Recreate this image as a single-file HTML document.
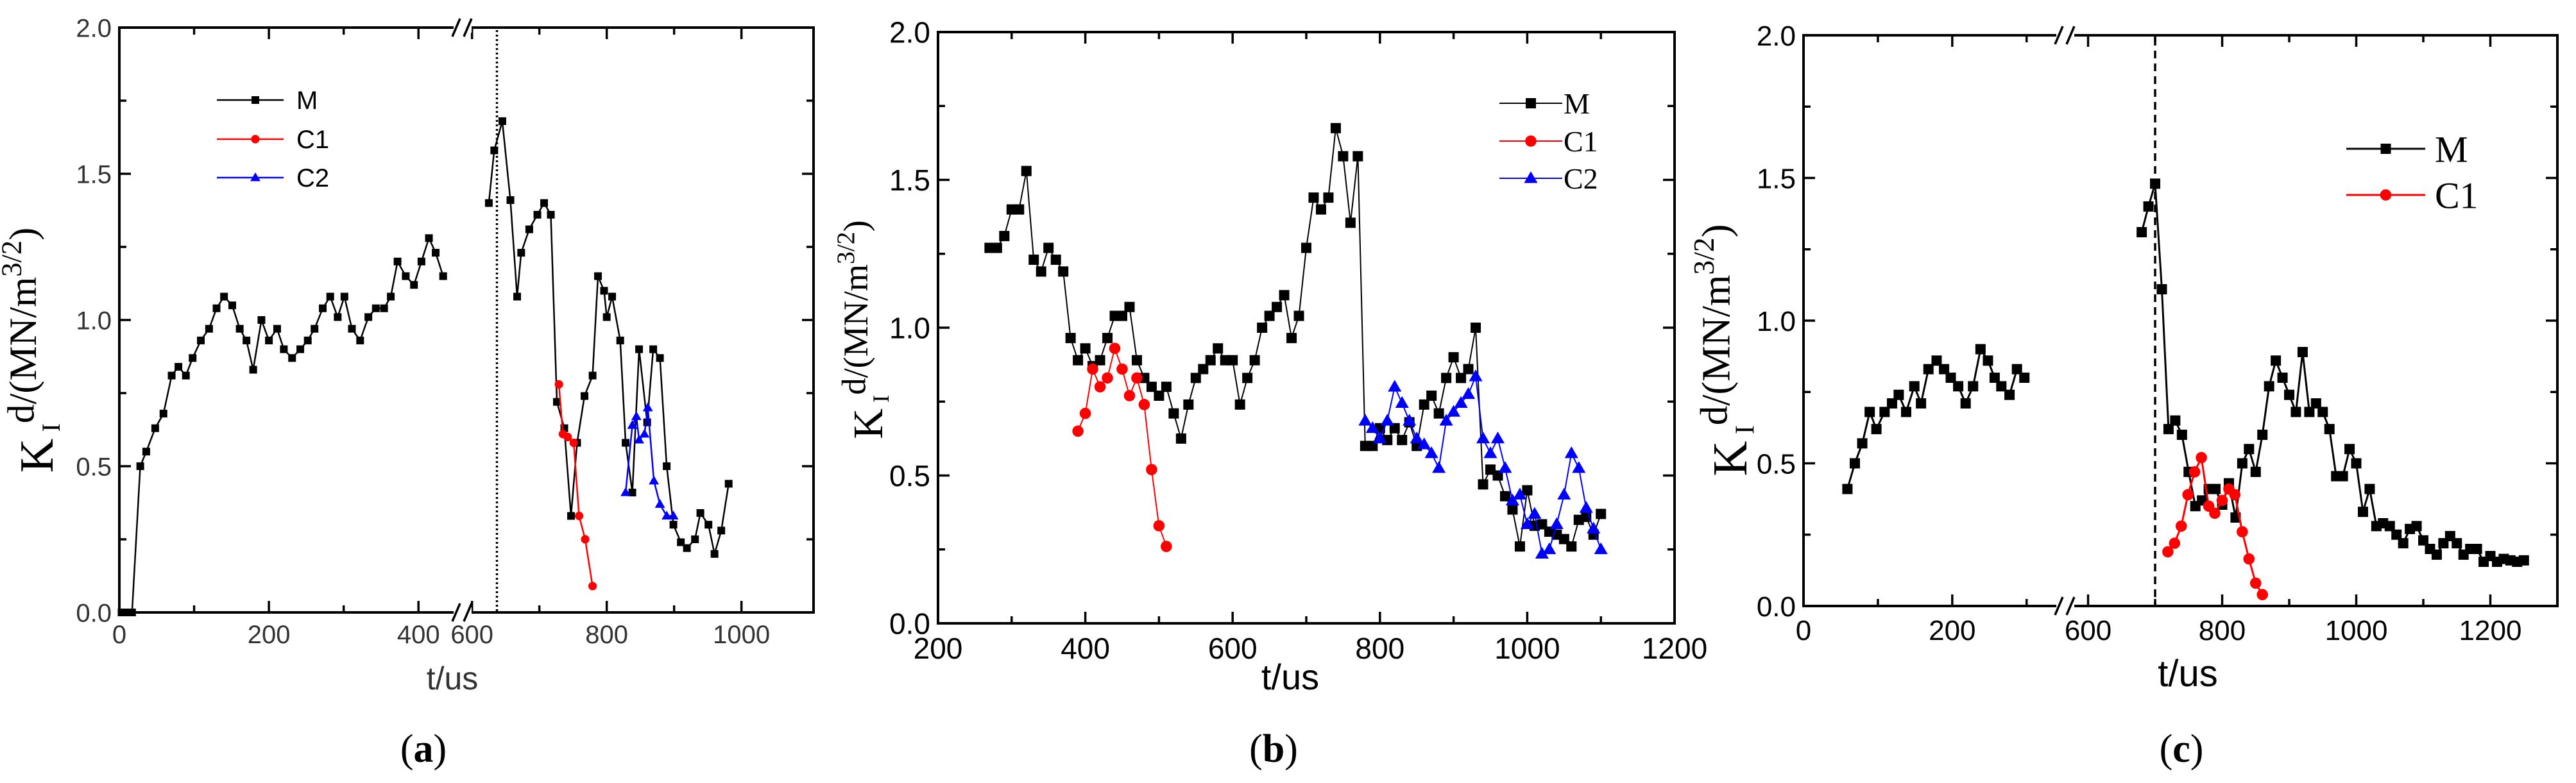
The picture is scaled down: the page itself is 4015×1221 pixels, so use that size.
<!DOCTYPE html>
<html><head><meta charset="utf-8">
<style>
html,body{margin:0;padding:0;background:#fff;}
svg{display:block;}
</style></head>
<body>
<svg id="fig" width="4015" height="1221" viewBox="0 0 4015 1221" xmlns="http://www.w3.org/2000/svg"></svg>
<script>
// ---------- Panel (a) data ----------
const aMt = [3,10,17,28,36,48,59,70,79,89,98,109,120,130,140,151,161,170,179,190,200,211,220,231,242,252,261,272,282,292,301,311,322,333,343,354,363,372,383,394,404,414,423,433,
 625,633,645,657,667,673,685,697,707,717,726,737,747,756,767,779,787,796,800,808,820,828,838,848,860,869,879,889,899,910,919,931,939,951,960,970,981];
const aMy = [0,0,0,0.50,0.55,0.63,0.68,0.81,0.84,0.81,0.87,0.93,0.97,1.04,1.08,1.05,0.97,0.93,0.83,1.0,0.93,0.97,0.90,0.87,0.90,0.93,0.97,1.04,1.08,1.01,1.08,0.97,0.93,1.01,1.04,1.04,1.08,1.20,1.15,1.12,1.20,1.28,1.23,1.15,
 1.40,1.58,1.68,1.41,1.08,1.23,1.31,1.36,1.40,1.36,0.72,0.63,0.33,0.58,0.74,0.81,1.15,1.10,1.01,1.08,0.93,0.58,0.41,0.90,0.65,0.90,0.87,0.50,0.30,0.24,0.22,0.25,0.34,0.30,0.20,0.28,0.44];
const aC1t = [729,735,742,751,759,768,779];
const aC1y = [0.78,0.61,0.60,0.58,0.33,0.25,0.09];
const aC2t = [828,838,844,848,856,861,870,879,889,899];
const aC2y = [0.41,0.64,0.67,0.59,0.61,0.70,0.45,0.37,0.33,0.33];
const aXTicks = ["0","200","400","600","800","1000"];
// ---------- Panel (b) data ----------
const bMt = [270,280,290,300,310,320,330,340,350,360,370,380,390,400,410,420,430,440,450,460,470,480,490,500,510,520,530,540,550,560,570,580,590,600,610,620,630,640,650,660,670,680,690,700,710,720,730,740,750,760,770,780,790,800,810,820,830,840,850,860,870,880,890,900,910,920,930,940,950,960,970,980,990,1000,1010,1020,1030,1040,1050,1060,1070,1080,1090,1100];
const bMy = [1.27,1.27,1.31,1.40,1.40,1.53,1.23,1.19,1.27,1.23,1.19,0.965,0.89,0.93,0.87,0.89,0.965,1.04,1.04,1.07,0.89,0.83,0.80,0.77,0.80,0.71,0.625,0.74,0.83,0.86,0.89,0.93,0.89,0.89,0.74,0.83,0.89,1.00,1.04,1.07,1.11,0.965,1.04,1.27,1.44,1.40,1.44,1.675,1.58,1.355,1.58,0.60,0.60,0.66,0.62,0.66,0.62,0.68,0.60,0.74,0.77,0.71,0.83,0.90,0.83,0.86,1.00,0.47,0.52,0.50,0.43,0.385,0.26,0.45,0.33,0.335,0.31,0.30,0.285,0.26,0.35,0.36,0.30,0.37];
const bC1t = [390,400,410,420,430,440,450,460,470,480,490,500,510];
const bC1y = [0.65,0.71,0.86,0.80,0.83,0.93,0.86,0.77,0.83,0.74,0.52,0.33,0.26];
const bC2t = [780,790,800,810,820,830,840,850,860,870,880,890,900,910,920,930,940,950,960,970,980,990,1000,1010,1020,1030,1040,1050,1060,1070,1080,1090,1100];
const bC2y = [0.685,0.66,0.625,0.685,0.80,0.745,0.685,0.625,0.605,0.575,0.525,0.685,0.715,0.745,0.775,0.835,0.625,0.575,0.625,0.525,0.415,0.435,0.335,0.37,0.235,0.25,0.335,0.435,0.575,0.525,0.39,0.32,0.25];
const bXTicks = ["200","400","600","800","1000","1200"];
// ---------- Panel (c) data ----------
const cMt = [59,69,79,89,98,109,119,128,138,149,158,168,179,189,198,208,218,228,238,248,257,266,277,287,297,
 680,690,700,710,720,730,740,750,760,770,780,790,800,810,820,830,840,850,860,870,880,890,900,910,920,930,940,950,960,970,980,990,1000,1010,1020,1030,1040,1050,1060,1070,1080,1090,1100,1110,1120,1130,1140,1150,1160,1170,1180,1190,1200,1210,1220,1230,1240,1250];
const cMy = [0.41,0.50,0.57,0.68,0.62,0.68,0.71,0.74,0.68,0.77,0.71,0.83,0.86,0.83,0.80,0.77,0.71,0.77,0.90,0.86,0.80,0.77,0.74,0.83,0.80,
 1.31,1.40,1.48,1.11,0.62,0.65,0.60,0.47,0.35,0.37,0.41,0.41,0.355,0.43,0.31,0.50,0.55,0.47,0.60,0.77,0.86,0.80,0.74,0.68,0.89,0.68,0.71,0.68,0.62,0.455,0.455,0.55,0.50,0.33,0.41,0.28,0.29,0.28,0.25,0.22,0.27,0.28,0.23,0.20,0.18,0.22,0.245,0.22,0.18,0.20,0.20,0.155,0.175,0.155,0.165,0.16,0.155,0.16];
const cC1t = [719,729,739,749,759,769,780,789,800,810,819,830,840,850,860];
const cC1y = [0.19,0.22,0.28,0.39,0.47,0.52,0.35,0.325,0.37,0.41,0.39,0.26,0.165,0.08,0.04];
const cXTicks = ["0","200","600","800","1000","1200"];
const yTicks = ["0.0","0.5","1.0","1.5","2.0"];

const NS = "http://www.w3.org/2000/svg";
const fig = document.getElementById('fig');
function el(tag, attrs, parent){
  const e = document.createElementNS(NS, tag);
  for (const k in attrs) e.setAttribute(k, attrs[k]);
  (parent||fig).appendChild(e);
  return e;
}

function makeScaleX(segs){
  return function(v){
    for (const s of segs){ if (v>=s.d0-1e-9 && v<=s.d1+1e-9) return s.p0+(v-s.d0)/(s.d1-s.d0)*(s.p1-s.p0); }
    const s = v < segs[0].d0 ? segs[0] : segs[segs.length-1];
    return s.p0+(v-s.d0)/(s.d1-s.d0)*(s.p1-s.p0);
  };
}

function drawPanel(cfg){
  const g = el('g', {});
  
  
  const X = makeScaleX(cfg.segs);
  const Y = v => cfg.bottom - v/2*(cfg.bottom-cfg.top);
  const L = cfg.segs[0].p0, R = cfg.segs[cfg.segs.length-1].p1;
  const font = cfg.tickFont;
  const yt = el('g', {}, g);
  
  
  for (let i=0;i<=8;i++){
    const v = i*0.25, y = Y(v), len = i%2===0?18:11;
    el('line',{x1:L,y1:y,x2:L+len,y2:y,stroke:'#000','stroke-width':3.5},yt);
    el('line',{x1:R,y1:y,x2:R-len,y2:y,stroke:'#000','stroke-width':3.5},yt);
    if (i%2===0){
      const t = el('text',{x:L-12,y:y+cfg.tickSize*0.36,'text-anchor':'end','font-family':font,'font-size':cfg.tickSize,fill:cfg.tickColor},yt);
      t.textContent = yTicks[i/2];
      
      
    }
  }
  const xt = el('g', {}, g);
  
  
  cfg.majors.forEach((v,i)=>{
    const x = X(v);
    el('line',{x1:x,y1:cfg.bottom,x2:x,y2:cfg.bottom-18,stroke:'#000','stroke-width':3.5},xt);
    el('line',{x1:x,y1:cfg.top,x2:x,y2:cfg.top+18,stroke:'#000','stroke-width':3.5},xt);
    const t = el('text',{x:x,y:cfg.bottom+cfg.tickSize*1.2,'text-anchor':'middle','font-family':font,'font-size':cfg.tickSize,fill:cfg.tickColor},xt);
    t.textContent = cfg.xLabels[i];
    
    
  });
  cfg.minors.forEach(v=>{
    const x = X(v);
    el('line',{x1:x,y1:cfg.bottom,x2:x,y2:cfg.bottom-11,stroke:'#000','stroke-width':3.5},xt);
    el('line',{x1:x,y1:cfg.top,x2:x,y2:cfg.top+11,stroke:'#000','stroke-width':3.5},xt);
  });
  const fr = el('rect',{x:L,y:cfg.top,width:R-L,height:cfg.bottom-cfg.top,fill:'none',stroke:'#000','stroke-width':4},g);
  
  
  if (cfg.breakX){
    const bx = cfg.breakX;
    [cfg.top,cfg.bottom].forEach(y=>{
      el('rect',{x:bx-14,y:y-8,width:28,height:16,fill:'#fff'},g);
      const b1 = el('line',{x1:bx-16,y1:y+14,x2:bx-4,y2:y-14,stroke:'#000','stroke-width':3.5},g);
      
      
      el('line',{x1:bx+2,y1:y+14,x2:bx+14,y2:y-14,stroke:'#000','stroke-width':3.5},g);
    });
  }
  if (cfg.vline){
    const vx = X(cfg.vline.t);
    const vl = el('line',{x1:vx,y1:cfg.top+4,x2:vx,y2:cfg.bottom-2,stroke:'#000','stroke-width':3.5,'stroke-dasharray':cfg.vline.dash},g);
    
    
  }
  cfg.series.forEach(s=>{
    const sg = el('g',{},g);
    
    
    const n = Math.min(s.t.length, s.y.length);
    s.parts.forEach(([i0,i1])=>{
      i1 = Math.min(i1, n);
      let d='';
      for (let i=i0;i<i1;i++) d += (i===i0?'M':'L')+X(s.t[i]).toFixed(1)+','+Y(s.y[i]).toFixed(1);
      el('path',{d:d,fill:'none',stroke:s.color,'stroke-width':cfg.lw},sg);
    });
    for (let i=0;i<n;i++){
      const m = marker(s.shape, X(s.t[i]), Y(s.y[i]), cfg.ms, s.color, sg);
      
      
    }
  });
  const lg = el('g',{},g);
  
  
  cfg.legend.items.forEach((it,i)=>{
    const y = cfg.legend.y[i];
    el('line',{x1:cfg.legend.x0,y1:y,x2:cfg.legend.x1,y2:y,stroke:it.color,'stroke-width':cfg.lw},lg);
    marker(it.shape,(cfg.legend.x0+cfg.legend.x1)/2+cfg.legend.mOff,y,cfg.ms,it.color,lg);
    const t = el('text',{x:cfg.legend.tx,y:y+cfg.legend.size*0.35,'font-family':cfg.legend.font,'font-size':cfg.legend.size,fill:'#000'},lg);
    t.textContent = it.label;
    
    
  });
  const xl = el('text',{x:cfg.xTitle[0],y:cfg.xTitle[1],'text-anchor':'middle','font-family':'"Liberation Sans",sans-serif','font-size':cfg.xTitle[2],fill:cfg.tickColor},g);
  xl.textContent = 't/us';
  
  
  const [yx,yy,ys] = cfg.yTitle;
  const yl = el('text',{x:0,y:0,'text-anchor':'middle','font-family':'"Liberation Serif",serif','font-size':ys,fill:'#000',transform:`translate(${yx},${yy}) rotate(-90)`},g);
  
  
  yl.innerHTML = `K<tspan font-size="${ys*0.55}" dy="${ys*0.15}"> I</tspan><tspan font-size="${ys*0.8}" dy="${-ys*0.55}">d</tspan><tspan dy="${ys*0.05}" font-size="${ys*0.82}">/(MN/m</tspan><tspan font-size="${ys*0.6}" dy="${-ys*0.32}">3/2</tspan><tspan dy="${ys*0.32}" font-size="${ys*0.82}">)</tspan>`;
  const cap = el('text',{x:cfg.cap[0],y:cfg.cap[1],'text-anchor':'middle','font-family':'"Liberation Serif",serif','font-size':62,fill:'#000'},g);
  cap.innerHTML = `(<tspan font-weight="bold">${cfg.cap[2]}</tspan>)`;
  
  
}

function marker(shape,x,y,s,color,parent){
  if (shape==='sq') return el('rect',{x:x-s/2,y:y-s/2,width:s,height:s,fill:color},parent);
  if (shape==='ci') return el('circle',{cx:x,cy:y,r:s*0.55,fill:color},parent);
  const h = s*1.1;
  return el('polygon',{points:`${x},${y-h*0.62} ${x-h*0.6},${y+h*0.42} ${x+h*0.6},${y+h*0.42}`,fill:color},parent);
}

drawPanel({
  name:'panel-a', top:43, bottom:955,
  segs:[{d0:0,d1:459,p0:186,p1:721},{d0:586,d1:1107,p0:721,p1:1268}],
  breakX:721, majors:[0,200,400,600,800,1000], minors:[100,300,700,900], xLabels:aXTicks,
  tickFont:'"Liberation Sans",sans-serif', tickSize:40, tickColor:'#333',
  lw:2.5, ms:12, vline:{t:637,dash:'3,4'},
  series:[
    {key:'M',t:aMt,y:aMy,color:'#000',shape:'sq',parts:[[0,44],[44,aMt.length]]},
    {key:'C1',t:aC1t,y:aC1y,color:'#f00',shape:'ci',parts:[[0,aC1t.length]]},
    {key:'C2',t:aC2t,y:aC2y,color:'#00f',shape:'tr',parts:[[0,aC2t.length]]}],
  legend:{x0:338,x1:442,mOff:8,tx:462,y:[156,217,277],size:40,font:'"Liberation Sans",sans-serif',
    items:[{label:'M',color:'#000',shape:'sq'},{label:'C1',color:'#f00',shape:'ci'},{label:'C2',color:'#00f',shape:'tr'}]},
  xTitle:[705,1075,50], yTitle:[82,546,74], cap:[660,1188,'a']
});
drawPanel({
  name:'panel-b', top:50, bottom:972,
  segs:[{d0:200,d1:1200,p0:1462,p1:2610}],
  majors:[200,400,600,800,1000,1200], minors:[300,500,700,900,1100], xLabels:bXTicks,
  tickFont:'"Liberation Sans",sans-serif', tickSize:46, tickColor:'#000',
  lw:2, ms:16,
  series:[
    {key:'M',t:bMt,y:bMy,color:'#000',shape:'sq',parts:[[0,bMt.length]]},
    {key:'C1',t:bC1t,y:bC1y,color:'#f00',shape:'ci',parts:[[0,bC1t.length]]},
    {key:'C2',t:bC2t,y:bC2y,color:'#00f',shape:'tr',parts:[[0,bC2t.length]]}],
  legend:{x0:2337,x1:2435,mOff:0,tx:2437,y:[161,220,278],size:46,font:'"Liberation Serif",serif',
    items:[{label:'M',color:'#000',shape:'sq'},{label:'C1',color:'#f00',shape:'ci'},{label:'C2',color:'#00f',shape:'tr'}]},
  xTitle:[2011,1075,56], yTitle:[1375,514,66], cap:[1985,1188,'b']
});
drawPanel({
  name:'panel-c', top:55, bottom:945,
  segs:[{d0:0,d1:352,p0:2811,p1:3219},{d0:566,d1:1300,p0:3219,p1:3986}],
  breakX:3219, majors:[0,200,600,800,1000,1200], minors:[100,300,700,900,1100], xLabels:cXTicks,
  tickFont:'"Liberation Sans",sans-serif', tickSize:44, tickColor:'#000',
  lw:3, ms:16, vline:{t:700,dash:'12,8'},
  series:[
    {key:'M',t:cMt,y:cMy,color:'#000',shape:'sq',parts:[[0,25],[25,cMt.length]]},
    {key:'C1',t:cC1t,y:cC1y,color:'#f00',shape:'ci',parts:[[0,cC1t.length]]}],
  legend:{x0:3657,x1:3780,mOff:0,tx:3795,y:[232,304],size:58,font:'"Liberation Serif",serif',
    items:[{label:'M',color:'#000',shape:'sq'},{label:'C1',color:'#f00',shape:'ci'}]},
  xTitle:[3410,1070,58], yTitle:[2722,546,76], cap:[3400,1188,'c']
});
</script>
</body></html>
